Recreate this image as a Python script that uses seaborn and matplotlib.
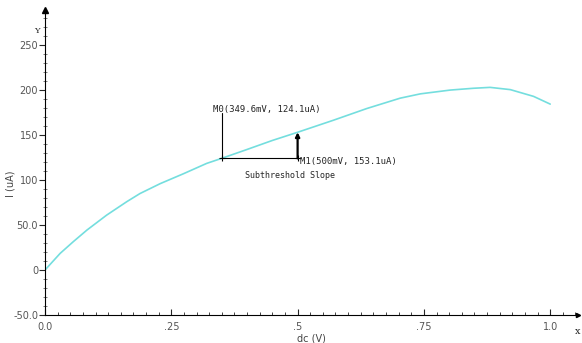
import numpy as np
import pandas as pd
import matplotlib
matplotlib.use("Agg")
import matplotlib.pyplot as plt
import seaborn as sns
from matplotlib.ticker import MultipleLocator

# data
vdc = [0, 0.03, 0.056, 0.083, 0.122, 0.162, 0.188, 0.228, 0.274, 0.32, 0.3496,
       0.4, 0.45, 0.5, 0.571, 0.637, 0.703, 0.743, 0.802, 0.848, 0.881, 0.921,
       0.967, 1.0]
cur = [0, 18.5, 31.5, 44.4, 61, 76, 85, 96, 107, 118.5, 124.1,
       134, 144, 153.1, 166.5, 179.5, 191, 195.8, 200, 202, 203, 200.5,
       193, 184.4]
m0 = (0.3496, 124.1)
m1 = (0.5, 153.1)
m0_label = "M0(349.6mV, 124.1uA)"
m1_label = "M1(500mV, 153.1uA)"
slope_label = "Subthreshold Slope"
xticks = [0.0, 0.25, 0.5, 0.75, 1.0]
xticklabels = ["0.0", ".25", ".5", ".75", "1.0"]
yticks = [-50, 0, 50, 100, 150, 200, 250]
yticklabels = ["-50.0", "0", "50.0", "100", "150", "200", "250"]

sns.set_style("white")
plt.rcParams['font.family'] = ['DejaVu Sans']

fig = plt.figure(figsize=(5.82, 3.43), dpi=100)
ax = fig.add_axes([45/582, 28/343, 533/582, 305/343])

df = pd.DataFrame({"dc": vdc, "I": cur})
sns.lineplot(data=df, x="dc", y="I", ax=ax, color="#74dede", linewidth=1.2)

ax.set_xlim(0, 1.055)
ax.set_ylim(-50, 289)
for s in ["top", "right"]:
    ax.spines[s].set_visible(False)
for s in ["left", "bottom"]:
    ax.spines[s].set_color("black")
    ax.spines[s].set_linewidth(0.8)

ax.set_xticks(xticks)
ax.set_xticklabels(xticklabels)
ax.set_yticks(yticks)
ax.set_yticklabels(yticklabels)
ax.xaxis.set_minor_locator(MultipleLocator(0.025))
ax.yaxis.set_minor_locator(MultipleLocator(10))
ax.tick_params(axis="x", which="major", direction="in", length=4, width=0.8,
               labelsize=7, labelcolor="#555555", pad=5, bottom=True)
ax.tick_params(axis="x", which="minor", direction="in", length=2.5, width=0.6, bottom=True)
ax.tick_params(axis="y", which="major", direction="out", length=4, width=0.8,
               labelsize=7, labelcolor="#555555", pad=1, left=True)
ax.tick_params(axis="y", which="minor", direction="inout", length=2.5, width=0.5,
               color="#444444", left=True)

ax.set_xlabel("dc (V)", fontsize=7, color="#444444", labelpad=1)
ax.set_ylabel("I (uA)", fontsize=7, color="#444444")
ax.yaxis.set_label_coords(-0.056, 0.43)

# axis arrows
ax.plot(0, 1, marker="^", color="black", markersize=4, transform=ax.transAxes, clip_on=False)
ax.plot(1, 0, marker=">", color="black", markersize=3, transform=ax.transAxes, clip_on=False)
ax.text(-0.01, 0.93, "Y", transform=ax.transAxes, fontsize=6, family="DejaVu Serif",
        ha="right", va="center")
ax.text(1.0, -0.04, "x", transform=ax.transAxes, fontsize=7, family="DejaVu Serif",
        ha="center", va="top")

# markers
mono = "DejaVu Sans Mono"
ax.plot([m0[0], m0[0]], [m0[1], 174], color="black", lw=0.8)
ax.plot([m0[0], m1[0]], [m0[1], m0[1]], color="black", lw=0.8)
ax.annotate("", xy=(m1[0], m1[1]), xytext=(m1[0], m0[1]),
            arrowprops=dict(arrowstyle="-|>", lw=1.6, color="black",
                            mutation_scale=6, shrinkA=0, shrinkB=0))
ax.plot([m0[0], m1[0]], [m0[1], m0[1]], marker="+", ls="none", color="black", ms=4, mew=0.8)
ax.text(m0[0] - 0.018, 178, m0_label, fontsize=6.5, family=mono, ha="left", va="center")
ax.text(m1[0] + 0.004, 121, m1_label, fontsize=6.5, family=mono, ha="left", va="center")
ax.text(0.485, 105, slope_label, fontsize=6, family=mono, ha="center", va="center")

fig.savefig("out.png", dpi=100)
